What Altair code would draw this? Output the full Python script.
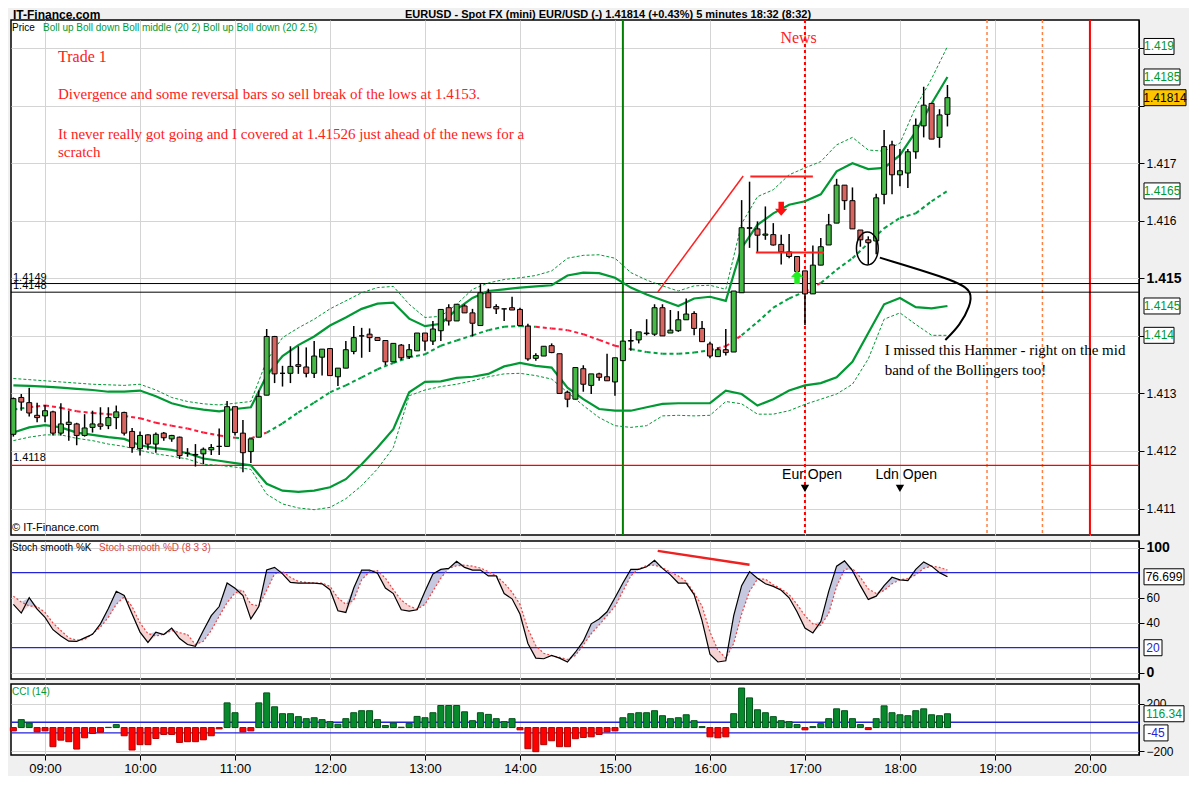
import altair as alt
import pandas as pd

# ---------------- data ----------------
opens = [1.41229,1.41293,1.41284,1.41262,1.41261,1.41268,1.41231,1.41246,1.41247,1.41227,
         1.41241,1.41247,1.41244,1.41258,1.41267,1.41234,1.41204,1.41228,1.41212,1.41231,
         1.41221,1.41224,1.41196,1.41193,1.41195,1.41202,1.41208,1.41208,1.41277,1.41231,
         1.41199,1.41224,1.41297,1.41399,1.41335,1.41335,1.41350,1.41346,1.41335,1.41363,
         1.41378,1.41329,1.41344,1.41373,1.41400,1.41403,1.41397,1.41392,1.41355,1.41384,
         1.41364,1.41374,1.41405,1.41391,1.41409,1.41449,1.41426,1.41452,1.41440,1.41418,
         1.41475,1.41451,1.41447,1.41449,1.41446,1.41417,1.41361,1.41365,1.41383,1.41369,
         1.41302,1.41290,1.41343,1.41314,1.41334,1.41329,1.41320,1.41357,1.41391,1.41393,
         1.41404,1.41403,1.41449,1.41405,1.41409,1.41428,1.41439,1.41413,1.41386,1.41364,
         1.41376,1.41372,1.41475,1.41587,1.41586,1.41575,1.41576,1.41559,1.41546,1.41538,
         1.41513,1.41473,1.41523,1.41558,1.41596,1.41662,1.41635,1.41584,1.41567,1.41565,
         1.41646,1.41732,1.41680,1.41683,1.41720,1.41765,1.41804,1.41745,1.41785]
highs = [1.41293,1.41299,1.41310,1.41284,1.41280,1.41270,1.41283,1.41270,1.41249,1.41264,
         1.41270,1.41276,1.41276,1.41279,1.41268,1.41240,1.41234,1.41229,1.41232,1.41233,
         1.41228,1.41225,1.41205,1.41212,1.41206,1.41212,1.41239,1.41287,1.41277,1.41254,
         1.41221,1.41305,1.41412,1.41400,1.41348,1.41382,1.41382,1.41380,1.41391,1.41377,
         1.41378,1.41344,1.41391,1.41417,1.41414,1.41413,1.41397,1.41392,1.41387,1.41386,
         1.41386,1.41405,1.41405,1.41426,1.41446,1.41455,1.41455,1.41455,1.41447,1.41490,
         1.41482,1.41455,1.41447,1.41468,1.41449,1.41421,1.41370,1.41382,1.41387,1.41369,
         1.41305,1.41345,1.41349,1.41334,1.41336,1.41369,1.41362,1.41391,1.41412,1.41407,
         1.41429,1.41455,1.41455,1.41445,1.41443,1.41465,1.41443,1.41426,1.41390,1.41380,
         1.41412,1.41478,1.41636,1.41668,1.41599,1.41625,1.41596,1.41576,1.41577,1.41538,
         1.41513,1.41557,1.41570,1.41612,1.41673,1.41662,1.41658,1.41584,1.41573,1.41647,
         1.41758,1.41739,1.41725,1.41725,1.41778,1.41833,1.41804,1.41794,1.41836]
lows = [1.41225,1.41270,1.41260,1.41250,1.41250,1.41227,1.41227,1.41218,1.41210,1.41225,
        1.41232,1.41237,1.41238,1.41238,1.41227,1.41197,1.41192,1.41202,1.41197,1.41218,
        1.41216,1.41186,1.41190,1.41173,1.41177,1.41193,1.41193,1.41208,1.41227,1.41163,
        1.41179,1.41224,1.41297,1.41318,1.41312,1.41318,1.41334,1.41328,1.41327,1.41331,
        1.41331,1.41313,1.41344,1.41368,1.41362,1.41372,1.41392,1.41349,1.41355,1.41358,
        1.41360,1.41374,1.41374,1.41384,1.41391,1.41418,1.41426,1.41440,1.41399,1.41418,
        1.41449,1.41438,1.41426,1.41445,1.41417,1.41357,1.41357,1.41365,1.41370,1.41299,
        1.41276,1.41290,1.41303,1.41299,1.41322,1.41322,1.41296,1.41357,1.41374,1.41387,
        1.41401,1.41400,1.41400,1.41405,1.41407,1.41428,1.41401,1.41390,1.41361,1.41364,
        1.41366,1.41372,1.41475,1.41553,1.41546,1.41567,1.41557,1.41524,1.41535,1.41512,
        1.41419,1.41473,1.41523,1.41558,1.41596,1.41619,1.41586,1.41555,1.41524,1.41542,
        1.41629,1.41646,1.41660,1.41657,1.41708,1.41745,1.41742,1.41727,1.41764]
closes = [1.41291,1.41285,1.41266,1.41258,1.41270,1.41231,1.41247,1.41250,1.41227,1.41240,
          1.41247,1.41243,1.41258,1.41268,1.41231,1.41206,1.41227,1.41212,1.41229,1.41223,
          1.41227,1.41192,1.41196,1.41194,1.41203,1.41206,1.41208,1.41277,1.41232,1.41197,
          1.41221,1.41295,1.41399,1.41334,1.41335,1.41347,1.41347,1.41335,1.41365,1.41377,
          1.41331,1.41344,1.41376,1.41397,1.41400,1.41397,1.41392,1.41355,1.41387,1.41362,
          1.41376,1.41405,1.41391,1.41412,1.41446,1.41426,1.41455,1.41440,1.41422,1.41475,
          1.41449,1.41447,1.41447,1.41445,1.41418,1.41360,1.41366,1.41382,1.41371,1.41300,
          1.41290,1.41345,1.41316,1.41334,1.41328,1.41322,1.41362,1.41391,1.41392,1.41407,
          1.41405,1.41449,1.41400,1.41410,1.41428,1.41438,1.41413,1.41390,1.41365,1.41376,
          1.41371,1.41478,1.41588,1.41588,1.41575,1.41577,1.41558,1.41546,1.41538,1.41512,
          1.41473,1.41523,1.41555,1.41593,1.41662,1.41635,1.41586,1.41567,1.41562,1.41640,
          1.41729,1.41680,1.41687,1.41720,1.41766,1.41801,1.41742,1.41784,1.41814]

# Bollinger bands, sampled every 10 minutes from 08:40
band_up2 = [1.41314,1.41313,1.41312,1.41310,1.41308,1.41306,1.41303,1.41303,1.41305,1.41295,
            1.41283,1.41276,1.41272,1.41269,1.41273,1.41276,1.41331,1.41365,1.41384,1.41399,
            1.41418,1.41432,1.41447,1.41456,1.41458,1.41430,1.41417,1.41421,1.41446,1.41466,
            1.41478,1.41481,1.41484,1.41486,1.41488,1.41505,1.41510,1.41509,1.41501,1.41484,
            1.41472,1.41462,1.41452,1.41465,1.41468,1.41461,1.41553,1.41593,1.41613,1.41628,
            1.41634,1.41646,1.41686,1.41700,1.41690,1.41692,1.41714,1.41755,1.41804,1.41850]
band_up25 = [1.41326,1.41324,1.41322,1.41320,1.41318,1.41316,1.41315,1.41314,1.41316,1.41306,
             1.41293,1.41286,1.41282,1.41280,1.41283,1.41286,1.41357,1.41397,1.41414,1.41429,
             1.41447,1.41461,1.41475,1.41484,1.41486,1.41455,1.41432,1.41434,1.41455,1.41481,
             1.41492,1.41498,1.41501,1.41505,1.41513,1.41535,1.41540,1.41541,1.41535,1.41510,
             1.41497,1.41487,1.41478,1.41487,1.41488,1.41481,1.41595,1.41642,1.41654,1.41680,
             1.41692,1.41703,1.41732,1.41745,1.41723,1.41721,1.41735,1.41798,1.41847,1.41903]
band_mid = [1.41272,1.41276,1.41279,1.41275,1.41269,1.41266,1.41264,1.41261,1.41257,1.41249,
            1.41244,1.41239,1.41232,1.41227,1.41223,1.41222,1.41232,1.41248,1.41267,1.41284,
            1.41302,1.41314,1.41328,1.41342,1.41353,1.41363,1.41368,1.41383,1.41392,1.41401,
            1.41410,1.41416,1.41417,1.41416,1.41413,1.41410,1.41403,1.41393,1.41383,1.41377,
            1.41372,1.41369,1.41369,1.41371,1.41375,1.41382,1.41401,1.41424,1.41449,1.41465,
            1.41477,1.41492,1.41515,1.41535,1.41561,1.41587,1.41605,1.41613,1.41634,1.41652]
band_lo2 = [1.41232,1.41241,1.41245,1.41241,1.41232,1.41228,1.41224,1.41221,1.41210,1.41205,
            1.41202,1.41196,1.41187,1.41183,1.41179,1.41175,1.41143,1.41131,1.41129,1.41131,
            1.41137,1.41151,1.41177,1.41206,1.41238,1.41302,1.41320,1.41321,1.41327,1.41329,
            1.41334,1.41347,1.41353,1.41348,1.41345,1.41310,1.41290,1.41273,1.41270,1.41270,
            1.41276,1.41282,1.41283,1.41283,1.41283,1.41305,1.41299,1.41279,1.41290,1.41305,
            1.41314,1.41318,1.41328,1.41355,1.41405,1.41455,1.41466,1.41450,1.41448,1.41452]
band_lo25 = [1.41218,1.41224,1.41228,1.41228,1.41222,1.41218,1.41212,1.41208,1.41201,1.41195,
             1.41191,1.41186,1.41177,1.41175,1.41172,1.41168,1.41125,1.41108,1.41101,1.41098,
             1.41102,1.41117,1.41140,1.41169,1.41206,1.41296,1.41306,1.41312,1.41316,1.41322,
             1.41329,1.41334,1.41335,1.41331,1.41325,1.41302,1.41279,1.41258,1.41244,1.41241,
             1.41244,1.41261,1.41262,1.41261,1.41262,1.41286,1.41282,1.41264,1.41264,1.41270,
             1.41281,1.41290,1.41299,1.41316,1.41360,1.41429,1.41440,1.41420,1.41401,1.41401]

stoch_k = [54.7,47.7,60.0,50.8,44.3,34.4,29.4,25.2,25.0,27.9,30.7,39.1,51.3,65.1,61.7,46.9,32.5,24.2,32.5,30.5,
           35.7,27.3,22.6,21.1,33.8,45.6,52.9,71.7,67.5,61.7,43.0,52.9,82.1,84.2,79.0,72.2,71.7,71.7,71.7,71.1,
           66.4,49.5,48.2,67.7,82.1,82.1,79.5,67.7,63.3,50.3,49.2,50.3,65.1,79.0,82.6,83.4,89.1,84.2,82.1,82.1,
           77.4,77.4,63.3,59.1,46.9,23.4,11.7,11.2,13.8,11.7,8.6,16.4,25.2,39.1,43.0,48.7,59.9,71.7,82.6,82.6,
           84.7,89.9,83.4,78.2,71.7,71.7,62.5,41.7,14.8,8.6,9.6,45.6,69.6,80.8,75.6,71.1,69.0,65.9,59.9,48.7,
           35.7,31.8,40.9,65.1,85.2,89.4,81.6,69.6,58.6,61.2,69.6,76.3,74.3,73.7,82.6,88.6,85.2,80.0,76.699]
stoch_d = [61.2,56.5,53.4,52.9,48.2,39.8,33.8,27.9,26.0,26.5,31.2,36.5,44.3,54.7,60.7,52.9,39.8,31.2,29.4,30.7,
           33.8,32.0,30.5,22.6,25.2,33.8,45.1,56.0,63.8,65.9,54.7,53.4,65.9,79.0,80.8,76.3,73.0,72.2,71.7,71.7,
           69.0,59.9,54.7,58.1,74.3,80.8,81.6,75.6,66.4,58.1,53.4,50.8,54.7,65.1,75.6,83.4,85.5,86.0,85.2,83.7,
           80.8,77.4,71.7,64.4,54.7,35.1,21.6,15.6,13.8,12.3,10.6,13.8,22.1,31.2,38.3,45.6,52.9,65.1,77.4,83.1,
           85.7,86.0,83.9,80.5,77.4,73.0,63.8,53.4,32.5,18.2,11.7,23.4,46.9,65.1,74.8,74.8,70.4,67.0,62.5,54.7,
           45.6,39.1,37.8,47.4,69.0,82.6,83.4,76.3,67.0,63.3,65.7,71.1,74.3,75.3,78.2,83.4,85.2,84.2,82.1]
cci = [-28,67,39,-36,-28,-161,-106,-119,-181,-86,-50,-39,2,25,-69,-189,-144,-144,-92,-58,
       -58,-125,-119,-119,-103,-69,-11,208,125,-36,-28,208,292,175,117,117,92,75,83,67,
       50,28,75,125,142,142,67,17,39,3,36,94,83,125,186,186,186,133,58,125,
       111,75,50,75,-19,-178,-203,-144,-111,-161,-161,-94,-83,-78,-58,-36,-28,83,117,125,
       125,142,100,75,83,108,58,8,-78,-86,-78,117,333,250,150,125,92,58,50,25,
       -19,8,33,75,158,142,75,25,-17,75,183,125,108,100,142,158,108,100,116.34]

level_black = [1.41491, 1.41476]
level_black_labels = ["1.4149", "1.4148"]
level_red = 1.41175
level_red_label = "1.4118"
hour_labels = list(range(9, 21))

DAY = (2009, 10, 14)


def T(h, m, s=0):
    return alt.DateTime(year=DAY[0], month=DAY[1], date=DAY[2], hours=h, minutes=m, seconds=s)


bar_times = pd.date_range("2009-10-14 08:40", periods=len(closes), freq="5min")
band_times = pd.date_range("2009-10-14 08:40", periods=len(band_mid), freq="10min")

candles = pd.DataFrame({"t": bar_times, "o": opens, "h": highs, "l": lows, "c": closes})
bands = pd.DataFrame({"t": band_times, "up2": band_up2, "lo2": band_lo2,
                      "up25": band_up25, "lo25": band_lo25, "mid": band_mid})
close_at_band = [closes[2 * k] for k in range(len(band_mid))]
mid_seg = pd.DataFrame({
    "t": band_times[:-1], "t2": band_times[1:],
    "m": band_mid[:-1], "m2": band_mid[1:],
    "col": ["#ff1a3c" if close_at_band[k] < band_mid[k] else "#00a040" for k in range(len(band_mid) - 1)],
})
stoch = pd.DataFrame({"t": bar_times, "k": stoch_k, "d": stoch_d})
ccidf = pd.DataFrame({"t": bar_times, "v": cci})
dummy = pd.DataFrame({"z": [0]})

callout = pd.DataFrame({
    "t": pd.to_datetime(["2009-10-14 17:47:18", "2009-10-14 18:38:00", "2009-10-14 18:45:30",
                         "2009-10-14 18:44:20", "2009-10-14 18:38:00", "2009-10-14 18:28:40"]),
    "p": [1.41536, 1.41494, 1.41476, 1.41452, 1.41419, 1.41393],
    "o": [0, 1, 2, 3, 4, 5],
})

# ---------------- layout constants ----------------
W = 1128
H_PRICE, H_STOCH, H_CCI = 515, 138, 71
GREEN_TXT = "#009933"
BAND = "#009933"
SANS = "Liberation Sans"
SERIF = "Liberation Serif"

xscale = alt.Scale(domain=[T(8, 38, 30), T(20, 31, 0)], padding=0)
hour_ticks = [T(h, 0) for h in hour_labels]
x_hidden = alt.Axis(values=hour_ticks, labels=False, ticks=False, domain=False, grid=True, title=None)
x_bottom = alt.Axis(values=hour_ticks, format="%H:%M", grid=True, domain=False, title=None,
                    labelFontSize=13, tickSize=5, labelPadding=2, labelOverlap=False)

pscale = alt.Scale(domain=[1.41054, 1.41949], nice=False, zero=False, padding=0)
price_axis = alt.Axis(orient="right", values=[1.411, 1.412, 1.413, 1.414, 1.415, 1.416, 1.417, 1.418, 1.419],
                      format=".3f", title=None, grid=True, tickSize=5, labelPadding=2, labelOverlap=False,
                      labelExpr="(abs(datum.value - 1.414) < 0.00001 || abs(datum.value - 1.418) < 0.00001 || abs(datum.value - 1.419) < 0.00001) ? '' : datum.label",
                      labelFontWeight={"condition": {"test": "abs(datum.value - 1.415) < 0.00001", "value": "bold"}, "value": "normal"},
                      labelFontSize={"condition": {"test": "abs(datum.value - 1.415) < 0.00001", "value": 14}, "value": 12})
sscale = alt.Scale(domain=[-5, 105.3], nice=False, zero=False, padding=0)
stoch_axis = alt.Axis(orient="right", values=[0, 40, 60, 100], title=None, grid=True, tickSize=5, labelPadding=2,
                      labelOverlap=False,
                      labelFontWeight={"condition": {"test": "datum.value == 0 || datum.value == 100", "value": "bold"}, "value": "normal"},
                      labelFontSize={"condition": {"test": "datum.value == 0 || datum.value == 100", "value": 14}, "value": 12})
cscale = alt.Scale(domain=[-231, 367], nice=False, zero=False, padding=0)
cci_axis = alt.Axis(orient="right", values=[-200, 0, 200], title=None, grid=True, tickSize=5, labelPadding=2,
                    labelOverlap=False, labelExpr="datum.value == 0 ? '' : datum.label")


def box(y_val, label, width, fill, tcolor, yscale, h=16):
    r = h / width
    path = f"M-1,{-r:.3f}L1,{-r:.3f}L1,{r:.3f}L-1,{r:.3f}Z"
    cx = W + 5 + width / 2
    pt = alt.Chart(dummy).mark_point(shape=path, size=width * width, filled=True, fill=fill,
                                     stroke="black", strokeWidth=1, opacity=1, fillOpacity=1).encode(
        x=alt.value(cx), y=alt.Y(datum=y_val, scale=yscale))
    tx = alt.Chart(dummy).mark_text(font=SANS, fontSize=12, color=tcolor, align="center", baseline="middle").encode(
        x=alt.value(cx), y=alt.Y(datum=y_val, scale=yscale), text=alt.value(label))
    return [pt, tx]


def ptxt(text, x, y, color="black", size=10, font=SANS, weight="normal", align="left"):
    return alt.Chart(dummy).mark_text(font=font, fontSize=size, color=color, align=align,
                                      baseline="middle", fontWeight=weight).encode(
        x=alt.value(x), y=alt.value(y), text=alt.value(text))


def dtxt(text, t, p, color="black", size=15, font=SERIF, align="left"):
    return alt.Chart(dummy).mark_text(font=font, fontSize=size, color=color, align=align,
                                      baseline="middle").encode(
        x=alt.X(datum=t, scale=xscale), y=alt.Y(datum=p, scale=pscale), text=alt.value(text))


def fmt4(v):
    return f"{round(v, 4):g}"


# ---------------- price panel ----------------
wick = alt.Chart(candles).mark_rule(color="black", strokeWidth=1.5).encode(
    x=alt.X("t:T", scale=xscale, axis=x_hidden),
    y=alt.Y("l:Q", scale=pscale, axis=price_axis),
    y2="h:Q")
body = alt.Chart(candles).mark_bar(size=5, stroke="black", strokeWidth=1).encode(
    x=alt.X("t:T", scale=xscale),
    y=alt.Y("o:Q", scale=pscale),
    y2="c:Q",
    color=alt.condition("datum.c >= datum.o", alt.value("#45b845"), alt.value("#d8655f")))


def band_line(field, width, dash=None):
    kw = dict(color=BAND, strokeWidth=width)
    if dash:
        kw["strokeDash"] = dash
    return alt.Chart(bands).mark_line(**kw).encode(
        x=alt.X("t:T", scale=xscale), y=alt.Y(f"{field}:Q", scale=pscale))


mid_line = alt.Chart(mid_seg).mark_rule(strokeWidth=2, strokeDash=[4, 3]).encode(
    x=alt.X("t:T", scale=xscale), x2="t2:T",
    y=alt.Y("m:Q", scale=pscale), y2="m2:Q",
    color=alt.Color("col:N", scale=None))

lv = pd.DataFrame({"p": level_black, "lab": level_black_labels})
lv_rule = alt.Chart(lv).mark_rule(color="black", strokeWidth=1).encode(y=alt.Y("p:Q", scale=pscale))
lv_text = alt.Chart(lv).mark_text(font=SANS, fontSize=11, align="left", baseline="bottom", dy=-1).encode(
    x=alt.value(2), y=alt.Y("p:Q", scale=pscale), text="lab:N")
red_rule = alt.Chart(dummy).mark_rule(color="#ff0000", strokeWidth=1.2).encode(y=alt.Y(datum=level_red, scale=pscale))
red_text = alt.Chart(dummy).mark_text(font=SANS, fontSize=11, align="left", baseline="bottom", dy=-2).encode(
    x=alt.value(2), y=alt.Y(datum=level_red, scale=pscale), text=alt.value(level_red_label))


def vline(t, color, width, dash=None):
    kw = dict(color=color, strokeWidth=width)
    if dash:
        kw["strokeDash"] = dash
    return alt.Chart(dummy).mark_rule(**kw).encode(x=alt.X(datum=t, scale=xscale))


def seg(t1, p1, t2, p2, color, width, yscale=pscale):
    return alt.Chart(dummy).mark_rule(color=color, strokeWidth=width).encode(
        x=alt.X(datum=t1, scale=xscale), x2=alt.X2(datum=t2),
        y=alt.Y(datum=p1, scale=yscale), y2=alt.Y2(datum=p2))


down_arrow = "M-0.4,-1L0.4,-1L0.4,0L0.9,0L0,1L-0.9,0L-0.4,0Z"
up_arrow = "M-0.4,1L0.4,1L0.4,0L0.9,0L0,-1L-0.9,0L-0.4,0Z"
ellipse = "M0,-1A0.66,1 0 1,1 0,1A0.66,1 0 1,1 0,-1Z"


def sym(t, p, shape, size, fill=None, stroke=None, sw=1.5):
    kw = dict(shape=shape, size=size, opacity=1)
    if fill:
        kw.update(filled=True, fill=fill, fillOpacity=1, strokeWidth=0)
    else:
        kw.update(filled=False, stroke=stroke, strokeWidth=sw)
    return alt.Chart(dummy).mark_point(**kw).encode(
        x=alt.X(datum=t, scale=xscale), y=alt.Y(datum=p, scale=pscale))


callout_line = alt.Chart(callout).mark_line(color="black", strokeWidth=2, interpolate="basis").encode(
    x=alt.X("t:T", scale=xscale), y=alt.Y("p:Q", scale=pscale), order="o:Q")

price_layers = [
    vline(T(15, 5), "#008000", 2),
    vline(T(17, 0), "#ff0000", 2, [3, 3]),
    vline(T(18, 55), "#ff8040", 1.5, [3, 3]),
    vline(T(19, 30), "#ff8040", 1.5, [3, 3]),
    vline(T(20, 0), "#ff0000", 2),
    lv_rule, lv_text, red_rule, red_text,
    band_line("up25", 1, [3, 2]), band_line("lo25", 1, [3, 2]),
    band_line("up2", 2.2), band_line("lo2", 2.2),
    mid_line,
    wick, body,
    seg(T(15, 27), 1.41476, T(16, 21), 1.41678, "#ff2020", 1.5),
    seg(T(16, 25, 30), 1.41677, T(17, 5), 1.41677, "#ff2020", 2),
    seg(T(16, 29), 1.41545, T(17, 12), 1.41545, "#ff2020", 2),
    sym(T(16, 45), 1.41621, down_arrow, 190, fill="#ff1010"),
    sym(T(16, 55), 1.41502, up_arrow, 190, fill="#22ee22"),
    sym(T(17, 39, 24), 1.41552, ellipse, 1089, stroke="black", sw=1.5),
    callout_line,
    sym(T(17, 0), 1.41135, "triangle-down", 70, fill="black"),
    sym(T(18, 0), 1.41135, "triangle-down", 70, fill="black"),
    dtxt("Eur Open", T(17, 4, 30), 1.41159, size=14, font=SANS, align="center"),
    dtxt("Ldn Open", T(18, 4), 1.41159, size=14, font=SANS, align="center"),
    dtxt("News", T(16, 56), 1.41918, color="#ff2020", size=16, align="center"),
    dtxt("I missed this Hammer - right on the mid", T(17, 50, 20), 1.41376),
    dtxt("band of the Bollingers too!", T(17, 50, 20), 1.41340),
    # header strip above the price panel
    ptxt("IT-Finance.com", 2, -5, size=12, weight="bold"),
    ptxt("EURUSD - Spot FX (mini) EUR/USD (-)    1.41814 (+0.43%)    5 minutes   18:32 (8:32)", 597, -5,
         size=11, weight="bold", align="center"),
    ptxt("Price", 1, 8, size=10),
    ptxt("Boll up Boll down Boll middle (20 2)   Boll up Boll down (20 2.5)", 32, 8, color=GREEN_TXT, size=10),
    ptxt("Trade 1", 47, 37, color="#ff2020", size=16, font=SERIF),
    ptxt("Divergence and some reversal bars so sell break of the lows at 1.4153.", 47, 74, color="#ff2020", size=15, font=SERIF),
    ptxt("It never really got going and I covered at 1.41526 just ahead of the news for a", 47, 114, color="#ff2020", size=15, font=SERIF),
    ptxt("scratch", 47, 132, color="#ff2020", size=15, font=SERIF),
    ptxt("\u00a9 IT-Finance.com", 1, 508, size=11),
]
price_layers += box(band_up25[-1], fmt4(band_up25[-1]), 30, "white", GREEN_TXT, pscale)
price_layers += box(band_up2[-1], fmt4(band_up2[-1]), 36, "white", GREEN_TXT, pscale)
price_layers += box(band_mid[-1], fmt4(band_mid[-1]), 36, "white", GREEN_TXT, pscale)
price_layers += box(band_lo2[-1], fmt4(band_lo2[-1]), 36, "white", GREEN_TXT, pscale)
price_layers += box(band_lo25[-1], fmt4(band_lo25[-1]), 30, "white", GREEN_TXT, pscale)
price_layers += box(closes[-1], f"{closes[-1]:.5f}", 42, "#ffc400", "black", pscale)
price = alt.layer(*price_layers).properties(width=W, height=H_PRICE)

# ---------------- stochastic panel ----------------
sbase = alt.Chart(stoch).transform_calculate(hi="max(datum.k, datum.d)", lo="min(datum.k, datum.d)")
stoch_layers = [
    sbase.mark_area(color="#c6c8df", opacity=1).encode(
        x=alt.X("t:T", scale=xscale, axis=x_hidden), y=alt.Y("hi:Q", scale=sscale, axis=stoch_axis), y2="d:Q"),
    sbase.mark_area(color="#f6d4d4", opacity=1).encode(
        x=alt.X("t:T", scale=xscale), y=alt.Y("d:Q", scale=sscale), y2="lo:Q"),
    alt.Chart(dummy).mark_rule(color="#2424d8", strokeWidth=1.3).encode(y=alt.Y(datum=20, scale=sscale)),
    alt.Chart(dummy).mark_rule(color="#2424d8", strokeWidth=1.3).encode(y=alt.Y(datum=80, scale=sscale)),
    alt.Chart(stoch).mark_line(color="#ee4444", strokeWidth=1.2, strokeDash=[2, 2]).encode(
        x=alt.X("t:T", scale=xscale), y=alt.Y("d:Q", scale=sscale)),
    alt.Chart(stoch).mark_line(color="black", strokeWidth=1.2).encode(
        x=alt.X("t:T", scale=xscale), y=alt.Y("k:Q", scale=sscale)),
    seg(T(15, 27), 97.4, T(16, 25), 86.3, "#ee2020", 2.5, yscale=sscale),
    ptxt("Stoch smooth %K", 1, 7, size=10),
    ptxt("Stoch smooth %D (8 3 3)", 88, 7, color="#e04444", size=10),
]
stoch_layers += box(stoch_k[-1], f"{stoch_k[-1]:g}", 40, "white", "black", sscale)
stoch_layers += box(20, "20", 18, "white", "#2424d8", sscale)
stoch_panel = alt.layer(*stoch_layers).properties(width=W, height=H_STOCH)

# ---------------- CCI panel ----------------
cci_layers = [
    alt.Chart(dummy).mark_rule(color="#2424d8", strokeWidth=1.3).encode(y=alt.Y(datum=45, scale=cscale, axis=cci_axis)),
    alt.Chart(dummy).mark_rule(color="#2424d8", strokeWidth=1.3).encode(y=alt.Y(datum=-45, scale=cscale)),
    alt.Chart(ccidf).mark_bar(size=6, strokeWidth=1).encode(
        x=alt.X("t:T", scale=xscale, axis=x_bottom),
        y=alt.Y("v:Q", scale=cscale), y2=alt.Y2(datum=0),
        color=alt.condition("datum.v >= 0", alt.value("#078a2c"), alt.value("#ff0000")),
        stroke=alt.condition("datum.v >= 0", alt.value("#035019"), alt.value("#b00000"))),
    ptxt("CCI (14)", 1, 8, color=GREEN_TXT, size=10),
]
cci_layers += box(cci[-1], f"{cci[-1]:g}", 40, "white", GREEN_TXT, cscale)
cci_layers += box(-45, "-45", 24, "white", "#2424d8", cscale)
cci_panel = alt.layer(*cci_layers).properties(width=W, height=H_CCI)

chart = alt.vconcat(price, stoch_panel, cci_panel, spacing=2, padding=0,
                    background="#f0f0f0").configure_view(
    fill="white", stroke="black", strokeWidth=1.5).configure_axis(
    labelFont=SANS, labelFontSize=12, labelColor="black", gridColor="#d4d4d4", gridWidth=1,
    domainColor="black", tickColor="black")

chart.save("out.html", embed_options={"renderer": "svg", "actions": False})
